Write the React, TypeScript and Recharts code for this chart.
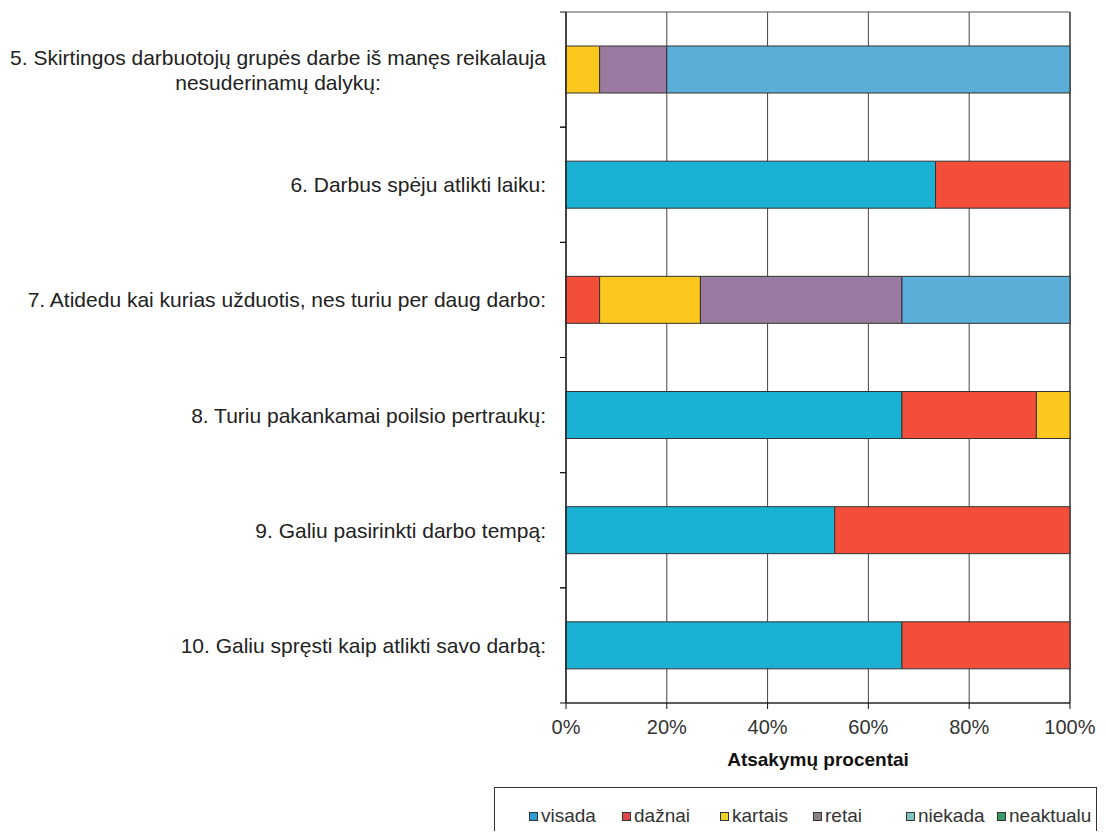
import React from "react";
import {
  BarChart,
  Bar,
  XAxis,
  YAxis,
  CartesianGrid,
  ReferenceArea,
} from "recharts";

const categories = [
  "5. Skirtingos darbuotojų grupės darbe iš manęs reikalauja nesuderinamų dalykų:",
  "6. Darbus spėju atlikti laiku:",
  "7. Atidedu kai kurias užduotis, nes turiu per daug darbo:",
  "8. Turiu pakankamai poilsio pertraukų:",
  "9. Galiu pasirinkti darbo tempą:",
  "10. Galiu spręsti kaip atlikti savo darbą:",
];
const categoryLines: string[][] = [
  ["5. Skirtingos darbuotojų grupės darbe iš manęs reikalauja", "nesuderinamų dalykų:"],
  ["6. Darbus spėju atlikti laiku:"],
  ["7. Atidedu kai kurias užduotis, nes turiu per daug darbo:"],
  ["8. Turiu pakankamai poilsio pertraukų:"],
  ["9. Galiu pasirinkti darbo tempą:"],
  ["10. Galiu spręsti kaip atlikti savo darbą:"],
];

const visada = [0, 73.33, 0, 66.67, 53.33, 66.67];
const daznai = [0, 26.67, 6.67, 26.67, 46.67, 33.33];
const kartais = [6.67, 0, 20, 6.67, 0, 0];
const retai = [13.33, 0, 40, 0, 0, 0];
const niekada = [80, 0, 33.33, 0, 0, 0];
const neaktualu = [0, 0, 0, 0, 0, 0];

const xTicks = [0, 20, 40, 60, 80, 100];

const seriesNames = ["visada", "dažnai", "kartais", "retai", "niekada", "neaktualu"];
const seriesKeys = ["visada", "daznai", "kartais", "retai", "niekada", "neaktualu"];
const barColors = ["#1AB1D3", "#F24E3A", "#FCC81E", "#9B7AA1", "#5AAED8", "#3E9B6B"];
const legendColors = ["#2A9ED3", "#DD4848", "#EDD426", "#8A8088", "#80C4C0", "#3A9A66"];

const data = categories.map((c, i) => ({
  label: c,
  visada: visada[i],
  daznai: daznai[i],
  kartais: kartais[i],
  retai: retai[i],
  niekada: niekada[i],
  neaktualu: neaktualu[i],
}));

const CHART_W = 1090;
const CHART_H = 780;
const MARGIN_TOP = 4;
const X_AXIS_H = 85;
const Y_AXIS_W = 558;
const PLOT_H = CHART_H - MARGIN_TOP - X_AXIS_H;
const BAND = PLOT_H / categories.length;
const FONT = "'Liberation Sans', Arial, sans-serif";

const YTick = (props: any) => {
  const { y, payload } = props;
  const idx = categories.indexOf(payload.value);
  const lines = categoryLines[idx] || [payload.value];
  const right = Y_AXIS_W - 20;
  return (
    <g>
      <line x1={Y_AXIS_W - 6} x2={Y_AXIS_W} y1={y - BAND / 2} y2={y - BAND / 2} stroke="#111" />
      <line x1={Y_AXIS_W - 6} x2={Y_AXIS_W} y1={y + BAND / 2} y2={y + BAND / 2} stroke="#111" />
      {lines.length === 1 ? (
        <text x={right} y={y} textAnchor="end" dominantBaseline="central" fontSize={21} fill="#222" fontFamily={FONT}>
          {lines[0]}
        </text>
      ) : (
        <text y={y} fontSize={21} fill="#222" fontFamily={FONT} textAnchor="middle">
          <tspan x={270} y={y - 12.5} dominantBaseline="central">{lines[0]}</tspan>
          <tspan x={270} y={y + 12.5} dominantBaseline="central">{lines[1]}</tspan>
        </text>
      )}
    </g>
  );
};

const XLabel = (props: any) => {
  const vb = props.viewBox || {};
  return (
    <text
      x={vb.x + vb.width / 2}
      y={vb.y + 56}
      textAnchor="middle"
      dominantBaseline="central"
      fontSize={19}
      fontWeight="bold"
      fill="#111"
      fontFamily={FONT}
    >
      Atsakymų procentai
    </text>
  );
};

const legendLefts = [520, 613, 711, 804, 897, 988];

export default function App() {
  return (
    <div style={{ position: "relative", width: CHART_W, height: 823, overflow: "hidden", fontFamily: FONT }}>
      <BarChart
        layout="vertical"
        width={CHART_W}
        height={CHART_H}
        data={data}
        margin={{ top: MARGIN_TOP, right: 28, bottom: 0, left: 0 }}
        barSize={47}
      >
        <CartesianGrid horizontal={false} vertical={true} stroke="#444" strokeWidth={1} />
        <ReferenceArea x1={0} x2={100} fill="none" stroke="#555" strokeWidth={1} ifOverflow="visible" />
        <XAxis
          type="number"
          domain={[0, 100]}
          ticks={xTicks}
          tickFormatter={(v: number) => `${v}%`}
          height={X_AXIS_H}
          tickSize={6}
          tickMargin={11}
          axisLine={{ stroke: "#111" }}
          tickLine={{ stroke: "#111" }}
          tick={{ fontSize: 20, fill: "#333", fontFamily: FONT }}
          interval={0}
          label={<XLabel />}
        />
        <YAxis
          type="category"
          dataKey="label"
          width={Y_AXIS_W}
          tickLine={false}
          axisLine={{ stroke: "#111" }}
          tick={<YTick />}
          interval={0}
        />
        {seriesKeys.map((k, i) => (
          <Bar
            key={k}
            dataKey={k}
            name={seriesNames[i]}
            stackId="a"
            fill={barColors[i]}
            stroke="#333"
            strokeWidth={1}
            isAnimationActive={false}
          />
        ))}
      </BarChart>
      <div
        style={{
          position: "absolute",
          left: 486,
          top: 779,
          width: 603,
          height: 70,
          border: "1px solid #333",
          boxSizing: "border-box",
        }}
      >
        {seriesNames.map((n, i) => (
          <div
            key={n}
            style={{
              position: "absolute",
              left: legendLefts[i] - 486,
              top: 17,
              height: 22,
              display: "flex",
              alignItems: "center",
              fontSize: 19,
              color: "#333",
              whiteSpace: "nowrap",
            }}
          >
            <span
              style={{
                display: "inline-block",
                width: 9,
                height: 9,
                background: legendColors[i],
                border: "1px solid #333",
                boxSizing: "border-box",
                marginRight: 3,
              }}
            />
            {n}
          </div>
        ))}
      </div>
    </div>
  );
}
